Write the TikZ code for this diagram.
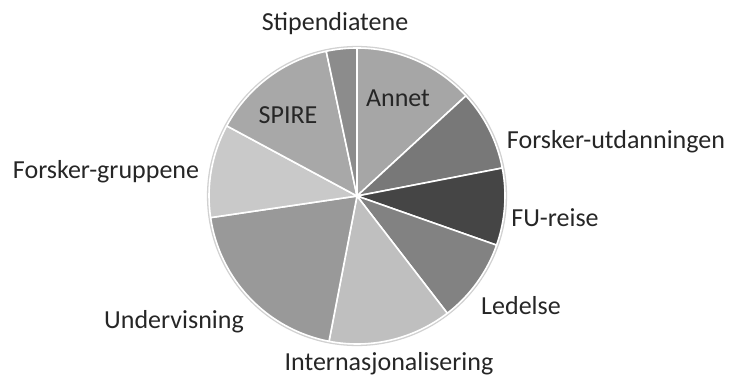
\documentclass[tikz,border=0pt]{standalone}
\usepackage{fontspec}
\setmainfont{Carlito}
\usepackage{tikz}
\definecolor{txt}{HTML}{262626}
\tikzstyle{slice} = [draw=white,line width=1.6pt,line join=round]
\tikzstyle{lbl} = [font=\fontsize{26}{30}\selectfont,text=txt,inner sep=0pt]

\begin{document}
\begin{tikzpicture}[x=1pt,y=1pt]
          \useasboundingbox (0,0) rectangle (731,376);
          \coordinate (M) at (357,180);

          % soft rim
          \draw[black!18,line width=2.2pt] (M) circle[radius=149pt];

          \fill[slice,fill=black!35] (M) -- ++(90:148pt) arc[start angle=90,end angle=42.6,radius=148pt] -- cycle;
          \fill[slice,fill=black!53] (M) -- ++(42.6:148pt) arc[start angle=42.6,end angle=10.9,radius=148pt] -- cycle;
          \fill[slice,fill=black!73] (M) -- ++(10.9:148pt) arc[start angle=10.9,end angle=-19.4,radius=148pt] -- cycle;
          \fill[slice,fill=black!49] (M) -- ++(-19.4:148pt) arc[start angle=-19.4,end angle=-52.4,radius=148pt] -- cycle;
          \fill[slice,fill=black!25] (M) -- ++(-52.4:148pt) arc[start angle=-52.4,end angle=-100.9,radius=148pt] -- cycle;
          \fill[slice,fill=black!40] (M) -- ++(-100.9:148pt) arc[start angle=-100.9,end angle=-171.6,radius=148pt] -- cycle;
          \fill[slice,fill=black!21] (M) -- ++(188.4:148pt) arc[start angle=188.4,end angle=151.7,radius=148pt] -- cycle;
          \fill[slice,fill=black!34] (M) -- ++(151.7:148pt) arc[start angle=151.7,end angle=102,radius=148pt] -- cycle;
          \fill[slice,fill=black!45] (M) -- ++(102:148pt) arc[start angle=102,end angle=90,radius=148pt] -- cycle;

          \node[lbl] at (335,352) (stip) {Stipendiatene};
          \node[lbl] at (398,278) (annet) {Annet};
          \node[lbl] at (288,261) (spire) {SPIRE};
          \node[lbl] at (616,234) (futd) {Forsker-utdanningen};
          \node[lbl] at (555,158) (fureise) {FU-reise};
          \node[lbl] at (521,70) (ledelse) {Ledelse};
          \node[lbl] at (106,204) (fgrupp) {Forsker-gruppene};
          \node[lbl] at (174,54) (underv) {Undervisning};
          \node[lbl] at (389,12) (intern) {Internasjonalisering};
        \end{tikzpicture}
\end{document}
